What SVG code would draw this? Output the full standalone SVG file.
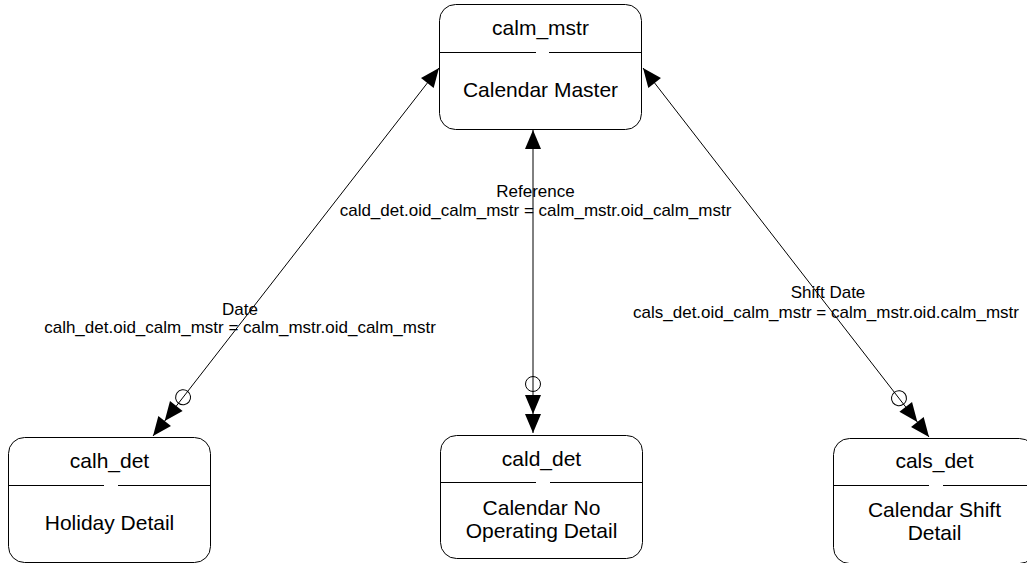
<svg xmlns="http://www.w3.org/2000/svg" width="1027" height="563" viewBox="0 0 1027 563">
<style>
.node{fill:#fff;stroke:#000;stroke-width:1}
.div{stroke:#000;stroke-width:1}
.t{font-family:"Liberation Sans",Arial,sans-serif;font-size:21px;fill:#000;text-anchor:middle}
.l{font-family:"Liberation Sans",Arial,sans-serif;font-size:17px;fill:#000;text-anchor:middle}
.c{stroke:#000;stroke-width:1;fill:none}
</style>
<defs>
<marker id="one" markerUnits="userSpaceOnUse" viewBox="-22 -10 24 20" refX="0" refY="0" markerWidth="24" markerHeight="20" orient="auto-start-reverse">
<path d="M0,0 L-19,-8 L-19,8 Z" fill="#000"/>
</marker>
<marker id="many" markerUnits="userSpaceOnUse" viewBox="-60 -10 62 20" refX="0" refY="0" markerWidth="62" markerHeight="20" orient="auto">
<path d="M0,0 L-19,-8 L-19,8 Z M-19,0 L-38,-8 L-38,8 Z" fill="#000"/>
<circle cx="-49" cy="0" r="7.5" fill="none" stroke="#000" stroke-width="1"/>
</marker>
</defs>
<g id="connectors">
<line class="c" x1="439" y1="68" x2="153" y2="436" marker-start="url(#one)" marker-end="url(#many)"/>
<line class="c" x1="533" y1="130" x2="533" y2="433" marker-start="url(#one)" marker-end="url(#many)"/>
<line class="c" x1="643" y1="68" x2="929" y2="437" marker-start="url(#one)" marker-end="url(#many)"/>
<text class="l" x="240" y="315">Date</text>
<text class="l" x="240" y="333">calh_det.oid_calm_mstr = calm_mstr.oid_calm_mstr</text>
<text class="l" x="535.5" y="197">Reference</text>
<text class="l" x="535.5" y="216">cald_det.oid_calm_mstr = calm_mstr.oid_calm_mstr</text>
<text class="l" x="828" y="298">Shift Date</text>
<text class="l" x="826" y="318">cals_det.oid_calm_mstr = calm_mstr.oid.calm_mstr</text>
</g>
<g id="calm_mstr">
<rect class="node" x="439.5" y="4.5" width="202" height="125" rx="16"/>
<path class="div" d="M440,52.5 H536 M549,52.5 H641"/>
<text class="t" x="540.5" y="35">calm_mstr</text>
<text class="t" x="540.5" y="97">Calendar Master</text>
</g>
<g id="calh_det">
<rect class="node" x="8.5" y="437.5" width="202" height="125" rx="16"/>
<path class="div" d="M9,485.5 H104 M118,485.5 H210"/>
<text class="t" x="109.5" y="468">calh_det</text>
<text class="t" x="109.5" y="530">Holiday Detail</text>
</g>
<g id="cald_det">
<rect class="node" x="440.5" y="435.5" width="202" height="123" rx="16"/>
<path class="div" d="M441,482.5 H536 M550,482.5 H642"/>
<text class="t" x="541.5" y="466">cald_det</text>
<text class="t" x="541.5" y="515">Calendar No</text>
<text class="t" x="541.5" y="538">Operating Detail</text>
</g>
<g id="cals_det">
<rect class="node" x="833.5" y="438.5" width="202" height="125" rx="16"/>
<path class="div" d="M834,485.5 H929 M943,485.5 H1035"/>
<text class="t" x="934.5" y="468">cals_det</text>
<text class="t" x="934.5" y="517">Calendar Shift</text>
<text class="t" x="934.5" y="540">Detail</text>
</g>
</svg>
